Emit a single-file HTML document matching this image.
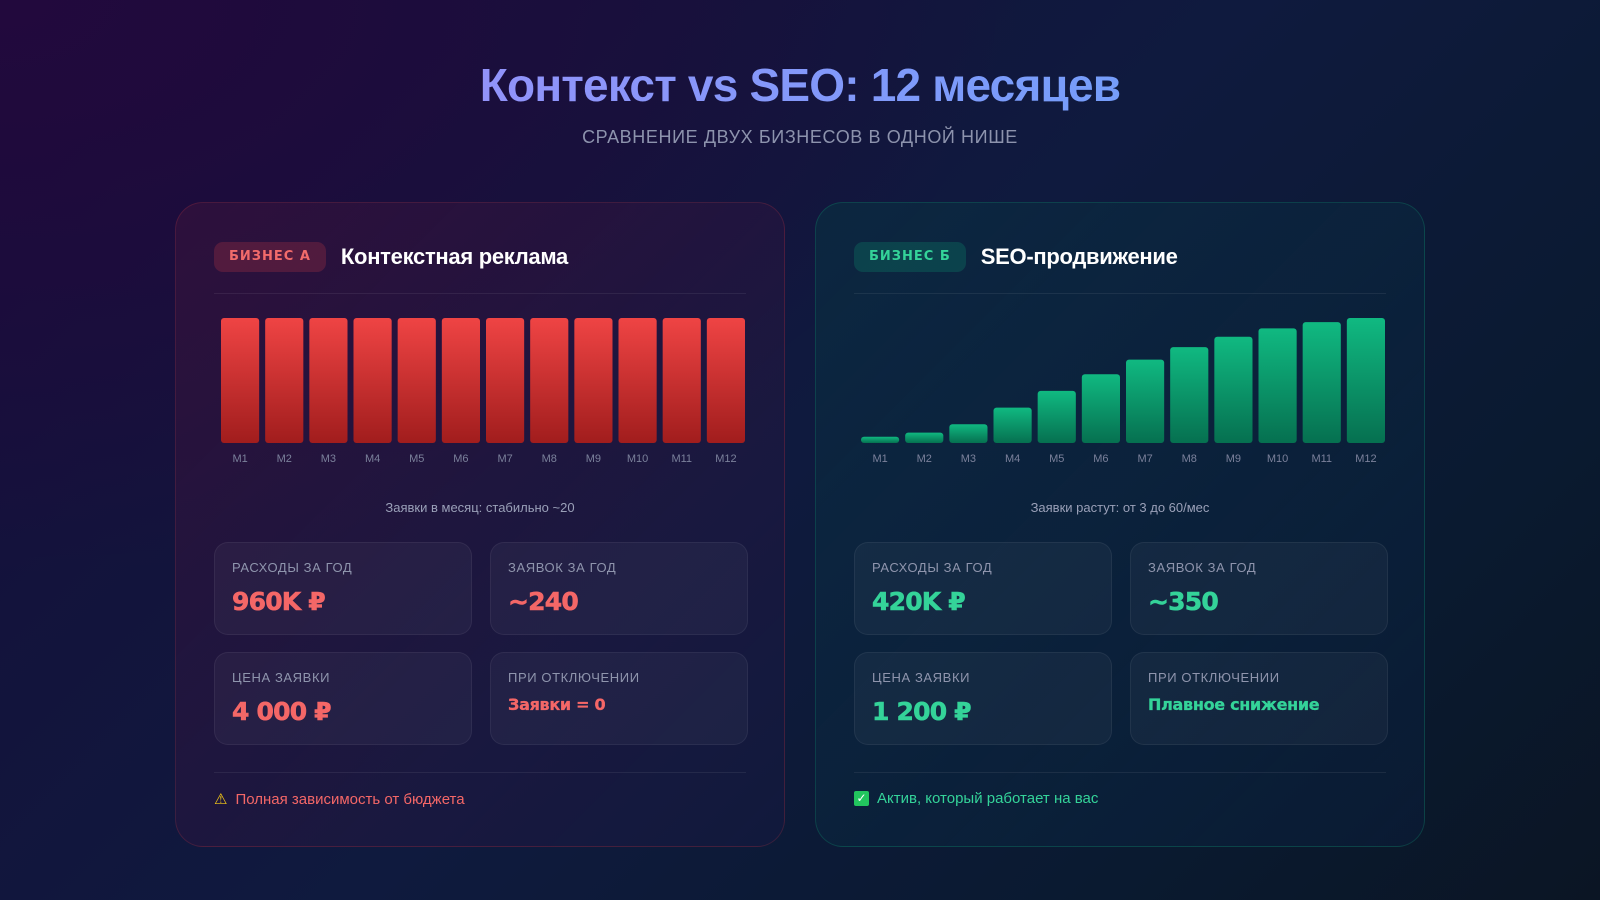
<!DOCTYPE html>
<html><head><meta charset="utf-8">
<style>
*{box-sizing:border-box;margin:0;padding:0}
body{width:1600px;height:900px;overflow:hidden;font-family:"Liberation Sans","DejaVu Sans",sans-serif;
background:radial-gradient(ellipse at 0% 0%,#22093d 0%,rgba(20,12,55,0) 45%),linear-gradient(135deg,#170c3a 0%,#0f1a3e 50%,#0a1a30 80%,#0b1524 100%);position:relative}
h1{position:absolute;left:0;width:1600px;top:58px;text-align:center;font-size:46px;font-weight:bold;letter-spacing:-0.8px;
background:linear-gradient(90deg,#a78bfa,#60a5fa);-webkit-background-clip:text;background-clip:text;color:transparent}
.sub{position:absolute;left:0;width:1600px;top:127px;text-align:center;font-size:18px;color:#8d93ad;letter-spacing:0.6px}
.card{position:absolute;top:202px;width:610px;height:645px;border-radius:28px;padding:0 38px}
.a{left:175px;background:linear-gradient(135deg,rgba(60,20,60,0.55),rgba(25,25,70,0.35));border:1px solid rgba(239,68,68,0.18)}
.b{left:815px;background:linear-gradient(135deg,rgba(10,45,65,0.7),rgba(12,30,60,0.5));border:1px solid rgba(16,185,129,0.22)}
.head{position:absolute;top:39px;left:38px;display:flex;align-items:center}
.badge{height:30px;padding:0 15px;border-radius:9px;font-size:13px;font-weight:bold;letter-spacing:1px;line-height:30px;font-family:"DejaVu Sans",sans-serif}
.a .badge{background:rgba(239,68,68,0.2);color:#f26b6b}
.b .badge{background:rgba(16,185,129,0.2);color:#34d399}
.ht{margin-left:15px;font-size:22px;font-weight:bold;color:#fff;letter-spacing:-0.3px}
.div{position:absolute;left:38px;right:38px;height:1px;background:rgba(255,255,255,0.07)}
svg.chart{position:absolute;left:42px;top:112px}
.cap{position:absolute;left:0;right:0;top:297px;text-align:center;font-size:13px;color:#9aa0b8}
.box{position:absolute;width:258px;height:93px;border-radius:14px;background:rgba(255,255,255,0.04);border:1px solid rgba(255,255,255,0.06);padding:17px 17px}
.lbl{font-size:13px;letter-spacing:0.6px;color:#8f95ad}
.val{margin-top:12px;font-size:25px;font-weight:bold;font-family:"DejaVu Sans",sans-serif;letter-spacing:-0.8px;-webkit-text-stroke:0.6px currentColor}
.val.sm{font-size:16px;margin-top:10px;-webkit-text-stroke:0.3px currentColor;letter-spacing:-0.3px}
.a .val{color:#f46767}.b .val{color:#34d399}
.foot{position:absolute;left:38px;top:587px;font-size:15px;display:flex;align-items:center;gap:8px}
.a .foot{color:#f46767}.b .foot{color:#34d399}
</style></head><body>
<h1>Контекст vs SEO: 12 месяцев</h1>
<div class="sub">СРАВНЕНИЕ ДВУХ БИЗНЕСОВ В ОДНОЙ НИШЕ</div>

<div class="card a">
 <div class="head"><span class="badge">БИЗНЕС А</span><span class="ht">Контекстная реклама</span></div>
 <div class="div" style="top:90px"></div>
 <svg class="chart" id="chartA" width="530" height="160"></svg>
 <div class="cap">Заявки в месяц: стабильно ~20</div>
 <div class="box" style="left:38px;top:339px"><div class="lbl">РАСХОДЫ ЗА ГОД</div><div class="val">960K ₽</div></div>
 <div class="box" style="left:314px;top:339px"><div class="lbl">ЗАЯВОК ЗА ГОД</div><div class="val">~240</div></div>
 <div class="box" style="left:38px;top:449px"><div class="lbl">ЦЕНА ЗАЯВКИ</div><div class="val">4 000 ₽</div></div>
 <div class="box" style="left:314px;top:449px"><div class="lbl">ПРИ ОТКЛЮЧЕНИИ</div><div class="val sm">Заявки = 0</div></div>
 <div class="div" style="top:569px"></div>
 <div class="foot"><span style="color:#facc15;font-size:15px">⚠</span>Полная зависимость от бюджета</div>
</div>

<div class="card b">
 <div class="head"><span class="badge">БИЗНЕС Б</span><span class="ht">SEO-продвижение</span></div>
 <div class="div" style="top:90px"></div>
 <svg class="chart" id="chartB" width="530" height="160"></svg>
 <div class="cap">Заявки растут: от 3 до 60/мес</div>
 <div class="box" style="left:38px;top:339px"><div class="lbl">РАСХОДЫ ЗА ГОД</div><div class="val">420K ₽</div></div>
 <div class="box" style="left:314px;top:339px"><div class="lbl">ЗАЯВОК ЗА ГОД</div><div class="val">~350</div></div>
 <div class="box" style="left:38px;top:449px"><div class="lbl">ЦЕНА ЗАЯВКИ</div><div class="val">1 200 ₽</div></div>
 <div class="box" style="left:314px;top:449px"><div class="lbl">ПРИ ОТКЛЮЧЕНИИ</div><div class="val sm">Плавное снижение</div></div>
 <div class="div" style="top:569px"></div>
 <div class="foot"><span style="display:inline-block;width:15px;height:15px;background:#22c55e;border-radius:2px;color:#fff;font-size:12px;line-height:15px;text-align:center;font-weight:bold">✓</span>Актив, который работает на вас</div>
</div>

<script>
const months = ["M1","M2","M3","M4","M5","M6","M7","M8","M9","M10","M11","M12"];
const leadsA = [20,20,20,20,20,20,20,20,20,20,20,20];
const leadsB = [3,5,9,17,25,33,40,46,51,55,58,60];
const NS="http://www.w3.org/2000/svg";
function draw(id, vals, maxV, c1, c2){
  const svg=document.getElementById(id);
  const W=530, top=3, base=128, slot=W/months.length, bw=slot-6;
  const y=v=>base-(v/maxV)*(base-top);
  const defs=document.createElementNS(NS,"defs");
  defs.innerHTML='<linearGradient id="g'+id+'" x1="0" y1="0" x2="0" y2="1"><stop offset="0" stop-color="'+c1+'"/><stop offset="1" stop-color="'+c2+'"/></linearGradient>';
  svg.appendChild(defs);
  vals.forEach((v,i)=>{
    const r=document.createElementNS(NS,"rect");
    
    
    r.setAttribute("x",i*slot+3);r.setAttribute("width",bw);
    r.setAttribute("y",y(v));r.setAttribute("height",base-y(v));
    r.setAttribute("rx",3);r.setAttribute("fill","url(#g"+id+")");
    svg.appendChild(r);
    const t=document.createElementNS(NS,"text");
    
    
    t.setAttribute("x",i*slot+slot/2);t.setAttribute("y",base+19);
    t.setAttribute("text-anchor","middle");t.setAttribute("font-size","11");
    t.setAttribute("fill","#7b819b");t.setAttribute("font-family","Liberation Sans, sans-serif");
    t.textContent=months[i];svg.appendChild(t);
  });
}
draw("chartA",leadsA,20,"#ef4444","#a11d1d");
draw("chartB",leadsB,60,"#10b981","#067050");
</script>
</body></html>
